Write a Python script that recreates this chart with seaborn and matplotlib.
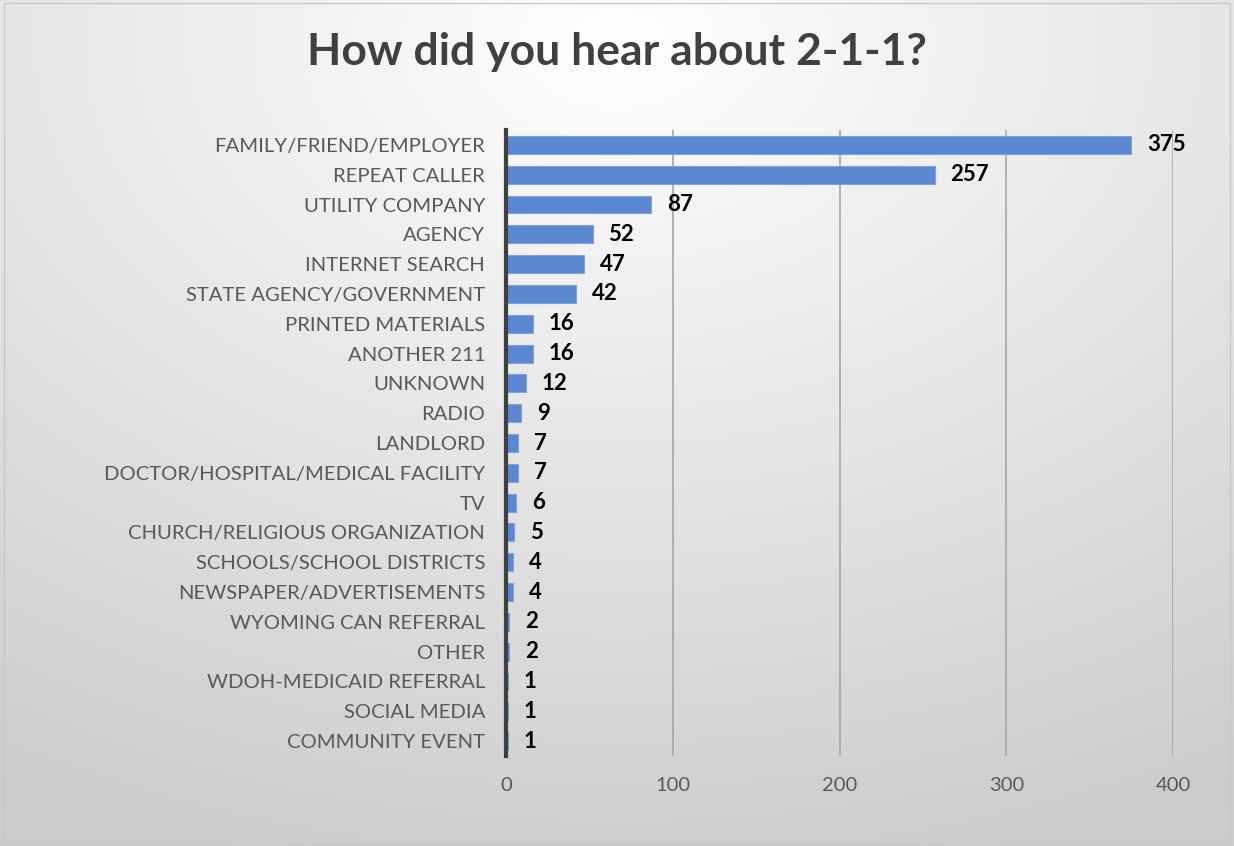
import numpy as np
import pandas as pd
import matplotlib
matplotlib.use("Agg")
import matplotlib.pyplot as plt
import seaborn as sns
from matplotlib.patches import Rectangle

categories = ["FAMILY/FRIEND/EMPLOYER", "REPEAT CALLER", "UTILITY COMPANY", "AGENCY",
              "INTERNET SEARCH", "STATE AGENCY/GOVERNMENT", "PRINTED MATERIALS",
              "ANOTHER 211", "UNKNOWN", "RADIO", "LANDLORD",
              "DOCTOR/HOSPITAL/MEDICAL FACILITY", "TV", "CHURCH/RELIGIOUS ORGANIZATION",
              "SCHOOLS/SCHOOL DISTRICTS", "NEWSPAPER/ADVERTISEMENTS",
              "WYOMING CAN REFERRAL", "OTHER", "WDOH-MEDICAID REFERRAL",
              "SOCIAL MEDIA", "COMMUNITY EVENT"]
counts = [375, 257, 87, 52, 47, 42, 16, 16, 12, 9, 7, 7, 6, 5, 4, 4, 2, 2, 1, 1, 1]
x_ticks = [0, 100, 200, 300, 400]
title = "How did you hear about 2-1-1?"

df = pd.DataFrame({"source": categories, "count": counts})

sns.set_theme(style="white")
plt.rcParams["font.family"] = ["Lato", "DejaVu Sans"]

W, H = 1234, 846
fig = plt.figure(figsize=(W / 100, H / 100), dpi=100)

# radial gradient background
bg = fig.add_axes([0, 0, 1, 1], zorder=-10)
yy, xx = np.mgrid[0:H, 0:W]
cx, cy = W * 0.5, H * 0.05
r = np.sqrt(((xx - cx) / W) ** 2 + ((yy - cy) / H) ** 2)
r = np.clip(r / 1.0, 0, 1)
top = np.array([1.0, 1.0, 1.0])
edge = np.array([0.80, 0.80, 0.80])
img = top[None, None, :] * (1 - r[..., None]) + edge[None, None, :] * r[..., None]
bg.imshow(img, aspect="auto", extent=[0, 1, 0, 1], origin="upper")
bg.set_axis_off()
fig.patches.append(Rectangle((0.003, 0.004), 0.994, 0.992, transform=fig.transFigure,
                             fill=False, edgecolor="#c8c8c8", linewidth=1.0))

ax = fig.add_axes([506 / W, 1 - 756 / H, (1173 - 506) / W, (756 - 130) / H])
ax.patch.set_alpha(0)
sns.barplot(data=df, x="count", y="source", orient="h", color="#5B87D0",
            saturation=1, width=0.6, edgecolor="#7ea2e0", linewidth=0.8, ax=ax, zorder=3)

ax.set_xlim(0, 400)
ax.set_ylim(len(categories) - 0.5 + 0.0, -0.5)
ax.set_xticks(x_ticks)
ax.set_xticklabels([str(t) for t in x_ticks], fontsize=14.5, color="#595959")
ax.tick_params(axis="x", length=0, pad=15)
ax.tick_params(axis="y", length=0, pad=15, labelsize=14.6, labelcolor="#595959")
ax.set_xlabel("")
ax.set_ylabel("")
for t in x_ticks[1:]:
    ax.axvline(t, color="#a6a6a6", linewidth=1.2, zorder=1)
for s in ["top", "right", "bottom"]:
    ax.spines[s].set_visible(False)
ax.spines["left"].set_color("#404040")
ax.spines["left"].set_linewidth(3)
ax.spines["left"].set_zorder(5)

for i, v in enumerate(counts):
    ax.text(v + 9.5, i, str(v), va="center", ha="left", fontsize=16,
            fontweight="bold", color="black", zorder=6)

fig.text(0.5, 1 - 52 / H, title, ha="center", va="center", fontsize=32,
         fontweight="bold", color="#404040")

fig.savefig("out.png", dpi=100)
